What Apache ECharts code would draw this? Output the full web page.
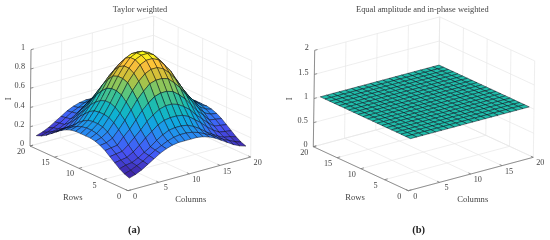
<!DOCTYPE html>
<html>
<head>
<meta charset="utf-8">
<style>html,body{margin:0;padding:0;background:#fff}#chart{width:550px;height:240px}</style>
<script src="https://cdn.jsdelivr.net/npm/echarts@6/dist/echarts.min.js"></script>
</head>
<body>
<div id="chart"></div>
<script>
// Array element positions (rows and columns of the surfaces)
const gridIndex = [1,2,3,4,5,6,7,8,9,10,11,12,13,14,15,16,17,18,19,20];
const rowTicks = [0,5,10,15,20];
const colTicks = [0,5,10,15,20];
const zTicksA = [0,0.2,0.4,0.6,0.8,1];
const zTicksB = [0,0.5,1,1.5,2];

const taylorValues = [
[.09,.11,.14,.18,.22,.26,.29,.31,.32,.32,.32,.32,.31,.29,.26,.22,.18,.14,.11,.09],
[.11,.13,.16,.19,.23,.27,.30,.33,.35,.36,.36,.35,.33,.30,.27,.23,.19,.16,.13,.11],
[.14,.16,.17,.20,.24,.28,.33,.37,.40,.41,.41,.40,.37,.33,.28,.24,.20,.17,.16,.14],
[.18,.19,.20,.24,.29,.35,.40,.45,.48,.49,.49,.48,.45,.40,.35,.29,.24,.20,.19,.18],
[.22,.23,.24,.29,.35,.41,.48,.53,.57,.59,.59,.57,.53,.48,.41,.35,.29,.24,.23,.22],
[.26,.27,.28,.35,.41,.49,.57,.63,.68,.70,.70,.68,.63,.57,.49,.41,.35,.28,.27,.26],
[.29,.30,.33,.40,.48,.57,.66,.73,.79,.81,.81,.79,.73,.66,.57,.48,.40,.33,.30,.29],
[.31,.33,.37,.45,.53,.63,.73,.81,.87,.90,.90,.87,.81,.73,.63,.53,.45,.37,.33,.31],
[.32,.35,.40,.48,.57,.68,.79,.87,.94,.97,.97,.94,.87,.79,.68,.57,.48,.40,.35,.32],
[.32,.36,.41,.49,.59,.70,.81,.90,.97,1.0,1.0,.97,.90,.81,.70,.59,.49,.41,.36,.32],
[.32,.36,.41,.49,.59,.70,.81,.90,.97,1.0,1.0,.97,.90,.81,.70,.59,.49,.41,.36,.32],
[.32,.35,.40,.48,.57,.68,.79,.87,.94,.97,.97,.94,.87,.79,.68,.57,.48,.40,.35,.32],
[.31,.33,.37,.45,.53,.63,.73,.81,.87,.90,.90,.87,.81,.73,.63,.53,.45,.37,.33,.31],
[.29,.30,.33,.40,.48,.57,.66,.73,.79,.81,.81,.79,.73,.66,.57,.48,.40,.33,.30,.29],
[.26,.27,.28,.35,.41,.49,.57,.63,.68,.70,.70,.68,.63,.57,.49,.41,.35,.28,.27,.26],
[.22,.23,.24,.29,.35,.41,.48,.53,.57,.59,.59,.57,.53,.48,.41,.35,.29,.24,.23,.22],
[.18,.19,.20,.24,.29,.35,.40,.45,.48,.49,.49,.48,.45,.40,.35,.29,.24,.20,.19,.18],
[.14,.16,.17,.20,.24,.28,.33,.37,.40,.41,.41,.40,.37,.33,.28,.24,.20,.17,.16,.14],
[.11,.13,.16,.19,.23,.27,.30,.33,.35,.36,.36,.35,.33,.30,.27,.23,.19,.16,.13,.11],
[.09,.11,.14,.18,.22,.26,.29,.31,.32,.32,.32,.32,.31,.29,.26,.22,.18,.14,.11,.09]
];
const equalValues = [
[1,1,1,1,1,1,1,1,1,1,1,1,1,1,1,1,1,1,1,1],[1,1,1,1,1,1,1,1,1,1,1,1,1,1,1,1,1,1,1,1],
[1,1,1,1,1,1,1,1,1,1,1,1,1,1,1,1,1,1,1,1],[1,1,1,1,1,1,1,1,1,1,1,1,1,1,1,1,1,1,1,1],
[1,1,1,1,1,1,1,1,1,1,1,1,1,1,1,1,1,1,1,1],[1,1,1,1,1,1,1,1,1,1,1,1,1,1,1,1,1,1,1,1],
[1,1,1,1,1,1,1,1,1,1,1,1,1,1,1,1,1,1,1,1],[1,1,1,1,1,1,1,1,1,1,1,1,1,1,1,1,1,1,1,1],
[1,1,1,1,1,1,1,1,1,1,1,1,1,1,1,1,1,1,1,1],[1,1,1,1,1,1,1,1,1,1,1,1,1,1,1,1,1,1,1,1],
[1,1,1,1,1,1,1,1,1,1,1,1,1,1,1,1,1,1,1,1],[1,1,1,1,1,1,1,1,1,1,1,1,1,1,1,1,1,1,1,1],
[1,1,1,1,1,1,1,1,1,1,1,1,1,1,1,1,1,1,1,1],[1,1,1,1,1,1,1,1,1,1,1,1,1,1,1,1,1,1,1,1],
[1,1,1,1,1,1,1,1,1,1,1,1,1,1,1,1,1,1,1,1],[1,1,1,1,1,1,1,1,1,1,1,1,1,1,1,1,1,1,1,1],
[1,1,1,1,1,1,1,1,1,1,1,1,1,1,1,1,1,1,1,1],[1,1,1,1,1,1,1,1,1,1,1,1,1,1,1,1,1,1,1,1],
[1,1,1,1,1,1,1,1,1,1,1,1,1,1,1,1,1,1,1,1],[1,1,1,1,1,1,1,1,1,1,1,1,1,1,1,1,1,1,1,1]
];

const FONT = '"Liberation Serif", serif';
const TEXT = '#444';
const parulaStops = [[62,38,168],[71,85,247],[41,137,243],[10,176,218],[32,190,170],[112,199,110],[196,193,55],[254,189,60],[249,251,20]];

function parula(t){
  t = Math.max(0,Math.min(1,t))*(parulaStops.length-1);
  const i = Math.min(parulaStops.length-2,Math.floor(t)), f = t-i;
  const a = parulaStops[i], b = parulaStops[i+1];
  return 'rgb('+a.map((v,k)=>Math.round(v+(b[k]-v)*f)).join(',')+')';
}

// Two oblique views: floor and height basis of each panel
const panels = [
 {title:'Taylor weighted', tag:'a', values:taylorValues, zTicks:zTicksA, zMax:1, cLow:.09, cHigh:1,
  o:[128,190.7], cx:[122.7,-33.7], ry:[-98,-44.7], up:[1,-96.3],
  titleAt:[140,10.3], tagAt:[134,230.7], rowsAt:[72.7,197.3], colsAt:[190.7,199.3], iAt:[8.3,98.7]},
 {title:'Equal amplitude and in-phase weighted', tag:'b', values:equalValues, zTicks:zTicksB, zMax:2, cLow:0, cHigh:2,
  o:[408.3,190.7], cx:[125,-33.4], ry:[-95,-44], up:[.7,-48.2],
  titleAt:[422.3,10.3], tagAt:[418.7,230.7], rowsAt:[355,197.3], colsAt:[472.7,200], iAt:[290,98.7]}
];

function project(p,col,row,z){
  return [p.o[0]+col/20*p.cx[0]+row/20*p.ry[0]+z*p.up[0],
          p.o[1]+col/20*p.cx[1]+row/20*p.ry[1]+z*p.up[1]];
}

function lineItem(p,api,a,b,color,width){
  const s = api.coord(project(p,a[0],a[1],a[2])), e = api.coord(project(p,b[0],b[1],b[2]));
  return {type:'line',shape:{x1:s[0],y1:s[1],x2:e[0],y2:e[1]},style:{stroke:color,lineWidth:width,fill:null}};
}

function frameSeries(p){
  const m = p.zMax, items = [];
  const grey = ['#e6e6e6',.7], dark = ['#777',.8];
  rowTicks.forEach(r=>{
    items.push([[0,r,0],[20,r,0],grey]);
    items.push([[20,r,0],[20,r,m],grey]);
  });
  colTicks.forEach(c=>{
    items.push([[c,0,0],[c,20,0],grey]);
    items.push([[c,20,0],[c,20,m],grey]);
  });
  p.zTicks.forEach(z=>{
    items.push([[0,20,z],[20,20,z],grey]);
    items.push([[20,20,z],[20,0,z],grey]);
  });
  items.push([[0,20,0],[0,20,m],dark],[[0,20,0],[0,0,0],dark],[[0,0,0],[20,0,0],dark]);
  rowTicks.forEach(r=>items.push([[0,r,0],[.5,r,0],dark]));
  colTicks.forEach(c=>items.push([[c,0,0],[c,.5,0],dark]));
  p.zTicks.forEach(z=>items.push([[0,20,z],[.45,20,z],dark]));
  return {type:'custom',coordinateSystem:'cartesian2d',silent:true,animation:false,clip:false,progressive:0,z:1,
    data:items.map((_,i)=>[i,0]),
    renderItem:(params,api)=>{const it=items[params.dataIndex];return lineItem(p,api,it[0],it[1],it[2][0],it[2][1]);}};
}

function surfaceSeries(p){
  const cells = [];
  for(let r=0;r<gridIndex.length-1;r++) for(let c=0;c<gridIndex.length-1;c++) cells.push([c,r]);
  cells.sort((a,b)=>(b[0]+b[1])-(a[0]+a[1]));
  const V = p.values;
  return {type:'custom',coordinateSystem:'cartesian2d',silent:true,animation:false,clip:false,progressive:0,z:2,
    data:cells,
    renderItem:(params,api)=>{
      const [c,r] = cells[params.dataIndex];
      const pts = [[c,r],[c+1,r],[c+1,r+1],[c,r+1]].map(q=>
        api.coord(project(p,gridIndex[q[0]],gridIndex[q[1]],V[q[1]][q[0]])));
      return {type:'polygon',shape:{points:pts},
        style:{fill:parula((V[r][c]-p.cLow)/(p.cHigh-p.cLow)),stroke:'rgba(5,5,20,.85)',lineWidth:.55}};
    }};
}

function textSeries(p){
  const items = [];
  const add = (x,y,text,extra)=>items.push(Object.assign({x,y,text,align:'center',rot:0,size:8.2},extra||{}));
  rowTicks.forEach(r=>{const q=project(p,0,r,0);add(q[0]-9,q[1]+6,String(r));});
  colTicks.forEach(c=>{const q=project(p,c,0,0);add(q[0]+7,q[1]+6,String(c));});
  p.zTicks.forEach(z=>{const q=project(p,0,20,z);add(q[0]-5.8,q[1]-2,String(z),{align:'right'});});
  add(p.rowsAt[0],p.rowsAt[1],'Rows',{size:8.6});
  add(p.colsAt[0],p.colsAt[1],'Columns',{size:8.6});
  add(p.iAt[0],p.iAt[1],'I',{size:8.6,rot:Math.PI/2});
  add(p.titleAt[0],p.titleAt[1],p.title,{size:8.4});
  add(p.tagAt[0],p.tagAt[1],'('+p.tag+')',{size:10.5,bold:true});
  return {type:'custom',coordinateSystem:'cartesian2d',silent:true,animation:false,clip:false,progressive:0,z:3,
    data:items.map((_,i)=>[i,0]),
    renderItem:(params,api)=>{
      const it = items[params.dataIndex], q = api.coord([it.x,it.y]);
      return {type:'text',x:q[0],y:q[1],rotation:it.rot,
        style:{text:it.text,fill:it.bold?'#222':TEXT,font:(it.bold?'bold ':'')+it.size+'px '+FONT,
          textAlign:it.align,textVerticalAlign:'middle'}};
    }};
}

const chart = echarts.init(document.getElementById('chart'),null,{renderer:'canvas'});
const series = [];
panels.forEach(p=>series.push(frameSeries(p),surfaceSeries(p),textSeries(p)));
chart.setOption({
  backgroundColor:'#fff',
  animation:false,
  grid:{left:0,right:0,top:0,bottom:0},
  xAxis:{type:'value',min:0,max:550,show:false},
  yAxis:{type:'value',min:0,max:240,inverse:true,show:false},
  series
});
</script>
</body>
</html>
